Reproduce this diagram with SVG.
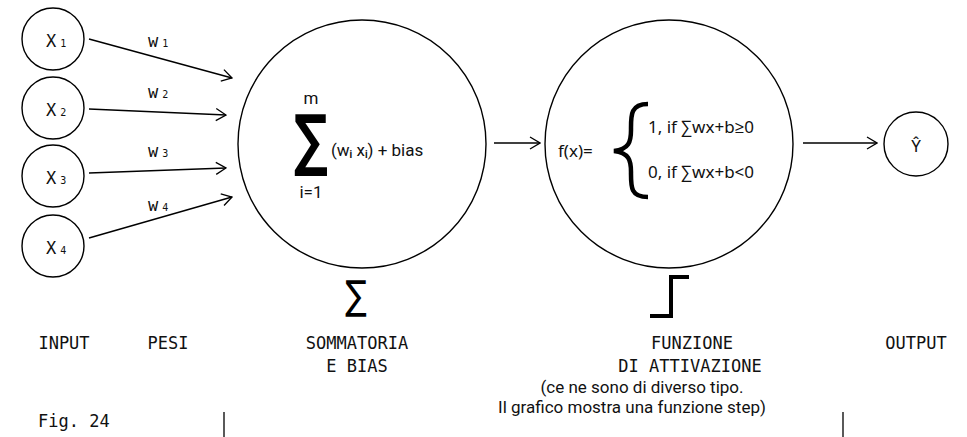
<svg xmlns="http://www.w3.org/2000/svg" width="967" height="437" viewBox="0 0 967 437">
<defs>
<marker id="ah" markerWidth="12" markerHeight="14" refX="11" refY="7" orient="auto" markerUnits="userSpaceOnUse">
<path d="M1,1 L11,7 L1,13" fill="none" stroke="#000" stroke-width="1.3"/>
</marker>
</defs>
<style>
.c{fill:#fff;stroke:#000;stroke-width:1.4}
.e{fill:none;stroke:#000;stroke-width:1.4;marker-end:url(#ah)}
.m{font-family:"DejaVu Sans Mono","Liberation Mono",monospace;font-size:17px;fill:#111}
.s{font-family:"Noto Sans","Open Sans",sans-serif;font-size:17px;fill:#111}
.r{font-family:Roboto,"Noto Sans",sans-serif;font-size:17px;fill:#111}
.sub{font-size:10px}
</style>
<rect width="967" height="437" fill="#fff"/>
<g id="x1"><circle class="c" cx="53" cy="39" r="31"/><text class="m" x="46" y="47" font-size="18">X<tspan class="sub" dx="4">1</tspan></text></g>
<g id="x2"><circle class="c" cx="53" cy="108" r="31"/><text class="m" x="46" y="116" font-size="18">X<tspan class="sub" dx="4">2</tspan></text></g>
<g id="x3"><circle class="c" cx="53" cy="176" r="31"/><text class="m" x="46" y="184" font-size="18">X<tspan class="sub" dx="4">3</tspan></text></g>
<g id="x4"><circle class="c" cx="53" cy="246" r="31"/><text class="m" x="46" y="254" font-size="18">X<tspan class="sub" dx="4">4</tspan></text></g>
<g id="sum">
<circle class="c" cx="362" cy="144" r="124"/>
<text class="r" x="311" y="104" text-anchor="middle">m</text>
<text font-family="DejaVu Sans,sans-serif" font-size="68" font-weight="bold" transform="translate(311,163) scale(0.7,1)" text-anchor="middle" fill="#000">∑</text>
<text class="r" x="311" y="198" text-anchor="middle">i=1</text>
<text class="r" x="331" y="156" font-size="18">(w<tspan class="sub" font-weight="bold" dy="2">i</tspan><tspan dy="-2"> x</tspan><tspan class="sub" font-weight="bold" dy="2">i</tspan><tspan dy="-2">) + bias</tspan></text>
</g>
<g id="act">
<circle class="c" cx="669" cy="144" r="124"/>
<text class="s" x="558" y="157">f(x)=</text>
<path d="M648,104 C630,104 631,116 631,130 C631,142 629,149 614,151 C629,153 631,160 631,172 C631,186 630,197 648,197" fill="none" stroke="#000" stroke-width="4.5"/>
<text class="s" x="648" y="133">1, if ∑wx+b≥0</text>
<text class="s" x="648" y="178">0, if ∑wx+b&lt;0</text>
</g>
<g id="out"><circle class="c" cx="916" cy="144" r="32"/><text class="s" x="916" y="152" text-anchor="middle">Ŷ</text></g>
<g id="edges">
<path class="e" d="M89,39 L232,78"/>
<path class="e" d="M89,109 L226,115"/>
<path class="e" d="M89,173 L226,168"/>
<path class="e" d="M89,238 L232,197"/>
<path class="e" d="M494,143 L540,143"/>
<path class="e" d="M803,143 L877,143"/>
</g>
<g id="weights">
<text class="m" x="148" y="47">w<tspan class="sub" dx="4">1</tspan></text>
<text class="m" x="148" y="98">w<tspan class="sub" dx="4">2</tspan></text>
<text class="m" x="148" y="157">w<tspan class="sub" dx="4">3</tspan></text>
<text class="m" x="148" y="211">w<tspan class="sub" dx="4">4</tspan></text>
</g>
<g id="icons">
<text font-family="DejaVu Sans,sans-serif" font-size="40" transform="translate(356,309) scale(0.8,1)" text-anchor="middle" fill="#000">∑</text>
<path d="M650,316 L671,316 L671,277 L689,277" fill="none" stroke="#000" stroke-width="4"/>
</g>
<g id="labels">
<text class="m" x="64" y="349" text-anchor="middle">INPUT</text>
<text class="m" x="168" y="349" text-anchor="middle">PESI</text>
<text class="m" x="357" y="349" text-anchor="middle">SOMMATORIA</text>
<text class="m" x="357" y="372" text-anchor="middle">E BIAS</text>
<text class="m" x="692" y="349" text-anchor="middle">FUNZIONE</text>
<text class="m" x="690" y="372" text-anchor="middle">DI ATTIVAZIONE</text>
<text class="r" x="642" y="393" text-anchor="middle" font-size="14">(ce ne sono di diverso tipo.</text>
<text class="r" x="632" y="413" text-anchor="middle" font-size="14">Il grafico mostra una funzione step)</text>
<text class="m" x="916" y="349" text-anchor="middle">OUTPUT</text>
<text class="m" x="38" y="427" font-size="15">Fig. 24</text>
</g>
<g id="marks">
<line x1="224" y1="412" x2="224" y2="437" stroke="#000" stroke-width="1.3"/>
<line x1="843" y1="412" x2="843" y2="437" stroke="#000" stroke-width="1.3"/>
</g>
</svg>
